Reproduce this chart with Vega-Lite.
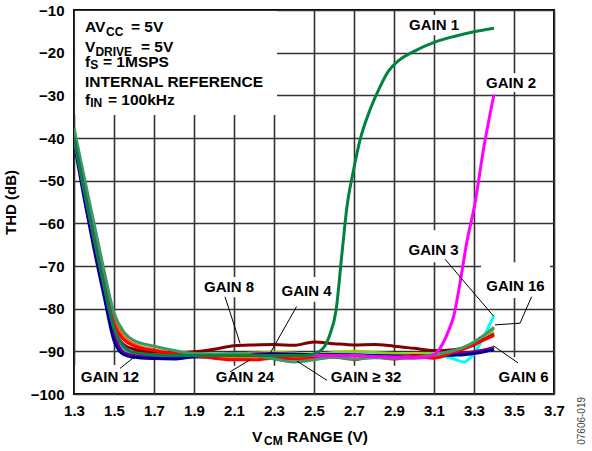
{
  "$schema": "https://vega.github.io/schema/vega-lite/v6.json",
  "width": 480,
  "height": 384,
  "autosize": {"type": "none"},
  "padding": {"left": 74, "top": 10, "right": 38, "bottom": 57},
  "background": "white",
  "config": {
    "view": {"stroke": "black", "strokeWidth": 2},
    "font": "Liberation Sans",
    "axis": {
      "domain": false,
      "ticks": false,
      "grid": true,
      "gridColor": "#333333",
      "gridWidth": 1.6,
      "gridOpacity": 1,
      "labelFont": "Liberation Sans",
      "labelFontSize": 15,
      "labelFontWeight": "bold",
      "labelColor": "black",
      "titleFont": "Liberation Sans",
      "titleFontSize": 15,
      "titleFontWeight": "bold",
      "titleColor": "black"
    }
  },
  "datasets": {
    "curves": [
      {"g":"GAIN 4","x":1.3,"y":-40},{"g":"GAIN 4","x":1.35,"y":-52},{"g":"GAIN 4","x":1.4,"y":-63.5},{"g":"GAIN 4","x":1.45,"y":-74.5},{"g":"GAIN 4","x":1.5,"y":-85},{"g":"GAIN 4","x":1.55,"y":-89.5},{"g":"GAIN 4","x":1.6,"y":-90.5},{"g":"GAIN 4","x":1.7,"y":-90.7},{"g":"GAIN 4","x":1.8,"y":-90.8},{"g":"GAIN 4","x":1.9,"y":-90.9},{"g":"GAIN 4","x":2.0,"y":-90.8},{"g":"GAIN 4","x":2.1,"y":-90.6},{"g":"GAIN 4","x":2.2,"y":-90.4},{"g":"GAIN 4","x":2.3,"y":-90.2},{"g":"GAIN 4","x":2.4,"y":-90.4},{"g":"GAIN 4","x":2.5,"y":-90.6},{"g":"GAIN 4","x":2.6,"y":-90.3},{"g":"GAIN 4","x":2.7,"y":-90.0},{"g":"GAIN 4","x":2.8,"y":-90.3},{"g":"GAIN 4","x":2.9,"y":-90.5},{"g":"GAIN 4","x":3.0,"y":-90.6},{"g":"GAIN 4","x":3.1,"y":-90.3},{"g":"GAIN 4","x":3.2,"y":-89.8},{"g":"GAIN 4","x":3.25,"y":-89.3},{"g":"GAIN 4","x":3.3,"y":-88.3},{"g":"GAIN 4","x":3.35,"y":-86.8},{"g":"GAIN 4","x":3.4,"y":-85.5},
      {"g":"GAIN 3","x":1.3,"y":-40.5},{"g":"GAIN 3","x":1.35,"y":-52.5},{"g":"GAIN 3","x":1.4,"y":-64},{"g":"GAIN 3","x":1.45,"y":-75},{"g":"GAIN 3","x":1.5,"y":-85.5},{"g":"GAIN 3","x":1.55,"y":-90},{"g":"GAIN 3","x":1.6,"y":-90.9},{"g":"GAIN 3","x":1.7,"y":-91.2},{"g":"GAIN 3","x":1.8,"y":-91.2},{"g":"GAIN 3","x":1.9,"y":-91.0},{"g":"GAIN 3","x":2.0,"y":-90.9},{"g":"GAIN 3","x":2.1,"y":-90.8},{"g":"GAIN 3","x":2.2,"y":-90.7},{"g":"GAIN 3","x":2.3,"y":-90.7},{"g":"GAIN 3","x":2.4,"y":-90.8},{"g":"GAIN 3","x":2.5,"y":-90.9},{"g":"GAIN 3","x":2.6,"y":-90.7},{"g":"GAIN 3","x":2.7,"y":-90.6},{"g":"GAIN 3","x":2.8,"y":-90.8},{"g":"GAIN 3","x":2.9,"y":-91.0},{"g":"GAIN 3","x":3.0,"y":-91.0},{"g":"GAIN 3","x":3.1,"y":-90.8},{"g":"GAIN 3","x":3.2,"y":-91.8},{"g":"GAIN 3","x":3.25,"y":-92.5},{"g":"GAIN 3","x":3.3,"y":-90.5},{"g":"GAIN 3","x":3.35,"y":-86.5},{"g":"GAIN 3","x":3.4,"y":-81.5},
      {"g":"GAIN 6","x":1.3,"y":-40.5},{"g":"GAIN 6","x":1.35,"y":-53},{"g":"GAIN 6","x":1.4,"y":-65},{"g":"GAIN 6","x":1.45,"y":-76},{"g":"GAIN 6","x":1.5,"y":-86},{"g":"GAIN 6","x":1.55,"y":-90.3},{"g":"GAIN 6","x":1.6,"y":-91.0},{"g":"GAIN 6","x":1.7,"y":-91.3},{"g":"GAIN 6","x":1.8,"y":-91.2},{"g":"GAIN 6","x":1.9,"y":-91.0},{"g":"GAIN 6","x":2.0,"y":-90.9},{"g":"GAIN 6","x":2.1,"y":-90.8},{"g":"GAIN 6","x":2.2,"y":-90.6},{"g":"GAIN 6","x":2.3,"y":-90.5},{"g":"GAIN 6","x":2.4,"y":-90.7},{"g":"GAIN 6","x":2.5,"y":-90.9},{"g":"GAIN 6","x":2.6,"y":-90.8},{"g":"GAIN 6","x":2.7,"y":-90.8},{"g":"GAIN 6","x":2.8,"y":-91.0},{"g":"GAIN 6","x":2.9,"y":-91.1},{"g":"GAIN 6","x":3.0,"y":-91.0},{"g":"GAIN 6","x":3.1,"y":-90.9},{"g":"GAIN 6","x":3.2,"y":-90.6},{"g":"GAIN 6","x":3.25,"y":-90.4},{"g":"GAIN 6","x":3.3,"y":-90.1},{"g":"GAIN 6","x":3.35,"y":-89.7},{"g":"GAIN 6","x":3.4,"y":-89.1},
      {"g":"GAIN 12","x":1.3,"y":-41},{"g":"GAIN 12","x":1.35,"y":-54},{"g":"GAIN 12","x":1.4,"y":-66},{"g":"GAIN 12","x":1.45,"y":-77},{"g":"GAIN 12","x":1.5,"y":-87.5},{"g":"GAIN 12","x":1.55,"y":-90.8},{"g":"GAIN 12","x":1.6,"y":-91.4},{"g":"GAIN 12","x":1.7,"y":-91.7},{"g":"GAIN 12","x":1.8,"y":-91.8},{"g":"GAIN 12","x":1.9,"y":-91.3},{"g":"GAIN 12","x":2.0,"y":-91.3},{"g":"GAIN 12","x":2.1,"y":-91.0},{"g":"GAIN 12","x":2.2,"y":-90.9},{"g":"GAIN 12","x":2.3,"y":-90.7},{"g":"GAIN 12","x":2.4,"y":-90.7},{"g":"GAIN 12","x":2.5,"y":-90.8},{"g":"GAIN 12","x":2.6,"y":-90.8},{"g":"GAIN 12","x":2.7,"y":-90.9},{"g":"GAIN 12","x":2.8,"y":-91.0},{"g":"GAIN 12","x":2.9,"y":-91.1},{"g":"GAIN 12","x":3.0,"y":-91.2},{"g":"GAIN 12","x":3.1,"y":-91.0},{"g":"GAIN 12","x":3.2,"y":-90.9},{"g":"GAIN 12","x":3.25,"y":-90.8},{"g":"GAIN 12","x":3.3,"y":-90.5},{"g":"GAIN 12","x":3.35,"y":-90.1},{"g":"GAIN 12","x":3.4,"y":-89.6},
      {"g":"GAIN 16","x":1.3,"y":-38.5},{"g":"GAIN 16","x":1.35,"y":-50},{"g":"GAIN 16","x":1.4,"y":-61},{"g":"GAIN 16","x":1.45,"y":-72},{"g":"GAIN 16","x":1.5,"y":-82},{"g":"GAIN 16","x":1.55,"y":-86.5},{"g":"GAIN 16","x":1.6,"y":-88.3},{"g":"GAIN 16","x":1.7,"y":-89.6},{"g":"GAIN 16","x":1.8,"y":-90.4},{"g":"GAIN 16","x":1.9,"y":-91.0},{"g":"GAIN 16","x":2.0,"y":-91.3},{"g":"GAIN 16","x":2.1,"y":-91.5},{"g":"GAIN 16","x":2.2,"y":-91.4},{"g":"GAIN 16","x":2.3,"y":-91.2},{"g":"GAIN 16","x":2.4,"y":-91.3},{"g":"GAIN 16","x":2.5,"y":-91.4},{"g":"GAIN 16","x":2.6,"y":-91.2},{"g":"GAIN 16","x":2.7,"y":-91.0},{"g":"GAIN 16","x":2.8,"y":-91.3},{"g":"GAIN 16","x":2.9,"y":-91.4},{"g":"GAIN 16","x":3.0,"y":-91.2},{"g":"GAIN 16","x":3.1,"y":-91.0},{"g":"GAIN 16","x":3.2,"y":-90.0},{"g":"GAIN 16","x":3.25,"y":-89.2},{"g":"GAIN 16","x":3.3,"y":-88.0},{"g":"GAIN 16","x":3.35,"y":-86.3},{"g":"GAIN 16","x":3.4,"y":-84.3},
      {"g":"GAIN 8","x":1.3,"y":-40},{"g":"GAIN 8","x":1.35,"y":-52},{"g":"GAIN 8","x":1.4,"y":-63.5},{"g":"GAIN 8","x":1.45,"y":-74.5},{"g":"GAIN 8","x":1.5,"y":-84.5},{"g":"GAIN 8","x":1.55,"y":-88.5},{"g":"GAIN 8","x":1.6,"y":-89.5},{"g":"GAIN 8","x":1.7,"y":-90.2},{"g":"GAIN 8","x":1.8,"y":-90.3},{"g":"GAIN 8","x":1.9,"y":-90.1},{"g":"GAIN 8","x":2.0,"y":-89.5},{"g":"GAIN 8","x":2.1,"y":-88.7},{"g":"GAIN 8","x":2.2,"y":-88.5},{"g":"GAIN 8","x":2.3,"y":-88.4},{"g":"GAIN 8","x":2.4,"y":-88.6},{"g":"GAIN 8","x":2.5,"y":-87.8},{"g":"GAIN 8","x":2.6,"y":-88.2},{"g":"GAIN 8","x":2.7,"y":-88.5},{"g":"GAIN 8","x":2.8,"y":-88.4},{"g":"GAIN 8","x":2.9,"y":-88.8},{"g":"GAIN 8","x":3.0,"y":-89.3},{"g":"GAIN 8","x":3.1,"y":-89.8},{"g":"GAIN 8","x":3.2,"y":-89.6},{"g":"GAIN 8","x":3.25,"y":-89.2},{"g":"GAIN 8","x":3.3,"y":-88.5},{"g":"GAIN 8","x":3.35,"y":-87.2},{"g":"GAIN 8","x":3.4,"y":-86.0},
      {"g":"GAIN 24","x":1.3,"y":-39.5},{"g":"GAIN 24","x":1.35,"y":-51},{"g":"GAIN 24","x":1.4,"y":-62.5},{"g":"GAIN 24","x":1.45,"y":-73.5},{"g":"GAIN 24","x":1.5,"y":-83.5},{"g":"GAIN 24","x":1.55,"y":-87.3},{"g":"GAIN 24","x":1.6,"y":-88.7},{"g":"GAIN 24","x":1.7,"y":-89.8},{"g":"GAIN 24","x":1.8,"y":-90.5},{"g":"GAIN 24","x":1.9,"y":-91.0},{"g":"GAIN 24","x":2.0,"y":-91.6},{"g":"GAIN 24","x":2.1,"y":-92.0},{"g":"GAIN 24","x":2.2,"y":-92.0},{"g":"GAIN 24","x":2.3,"y":-91.6},{"g":"GAIN 24","x":2.4,"y":-91.8},{"g":"GAIN 24","x":2.5,"y":-91.6},{"g":"GAIN 24","x":2.6,"y":-91.4},{"g":"GAIN 24","x":2.7,"y":-91.9},{"g":"GAIN 24","x":2.8,"y":-91.3},{"g":"GAIN 24","x":2.9,"y":-91.8},{"g":"GAIN 24","x":3.0,"y":-91.2},{"g":"GAIN 24","x":3.1,"y":-91.6},{"g":"GAIN 24","x":3.2,"y":-90.2},{"g":"GAIN 24","x":3.25,"y":-89.4},{"g":"GAIN 24","x":3.3,"y":-88.4},{"g":"GAIN 24","x":3.35,"y":-87.3},{"g":"GAIN 24","x":3.4,"y":-86.3},
      {"g":"GAIN 32","x":1.3,"y":-37.7},{"g":"GAIN 32","x":1.35,"y":-49},{"g":"GAIN 32","x":1.4,"y":-60},{"g":"GAIN 32","x":1.45,"y":-71},{"g":"GAIN 32","x":1.5,"y":-81},{"g":"GAIN 32","x":1.55,"y":-85.5},{"g":"GAIN 32","x":1.6,"y":-87.5},{"g":"GAIN 32","x":1.7,"y":-88.8},{"g":"GAIN 32","x":1.8,"y":-89.8},{"g":"GAIN 32","x":1.9,"y":-90.5},{"g":"GAIN 32","x":2.0,"y":-90.6},{"g":"GAIN 32","x":2.1,"y":-90.5},{"g":"GAIN 32","x":2.2,"y":-90.9},{"g":"GAIN 32","x":2.3,"y":-91.8},{"g":"GAIN 32","x":2.4,"y":-92.5},{"g":"GAIN 32","x":2.5,"y":-92.0},{"g":"GAIN 32","x":2.6,"y":-91.3},{"g":"GAIN 32","x":2.7,"y":-91.8},{"g":"GAIN 32","x":2.8,"y":-91.5},{"g":"GAIN 32","x":2.9,"y":-91.6},{"g":"GAIN 32","x":3.0,"y":-91.6},{"g":"GAIN 32","x":3.1,"y":-90.8},{"g":"GAIN 32","x":3.2,"y":-89.8},{"g":"GAIN 32","x":3.25,"y":-89.0},{"g":"GAIN 32","x":3.3,"y":-87.8},{"g":"GAIN 32","x":3.35,"y":-86.2},{"g":"GAIN 32","x":3.4,"y":-84.6},
      {"g":"GAIN 2","x":1.3,"y":-40},{"g":"GAIN 2","x":1.35,"y":-52},{"g":"GAIN 2","x":1.4,"y":-63.5},{"g":"GAIN 2","x":1.45,"y":-74.5},{"g":"GAIN 2","x":1.5,"y":-84.5},{"g":"GAIN 2","x":1.55,"y":-89},{"g":"GAIN 2","x":1.6,"y":-90.3},{"g":"GAIN 2","x":1.7,"y":-90.8},{"g":"GAIN 2","x":1.8,"y":-91},{"g":"GAIN 2","x":2.0,"y":-91},{"g":"GAIN 2","x":2.2,"y":-91},{"g":"GAIN 2","x":2.4,"y":-91},{"g":"GAIN 2","x":2.6,"y":-91},{"g":"GAIN 2","x":2.8,"y":-91.2},{"g":"GAIN 2","x":2.9,"y":-91.4},{"g":"GAIN 2","x":3.0,"y":-91.5},{"g":"GAIN 2","x":3.05,"y":-91.5},{"g":"GAIN 2","x":3.1,"y":-90.8},{"g":"GAIN 2","x":3.13,"y":-89.3},{"g":"GAIN 2","x":3.17,"y":-85.5},{"g":"GAIN 2","x":3.2,"y":-81.5},{"g":"GAIN 2","x":3.23,"y":-74},{"g":"GAIN 2","x":3.263,"y":-64.7},{"g":"GAIN 2","x":3.305,"y":-55.3},{"g":"GAIN 2","x":3.347,"y":-42.8},{"g":"GAIN 2","x":3.4,"y":-29.8},
      {"g":"GAIN 1","x":1.3,"y":-40},{"g":"GAIN 1","x":1.35,"y":-52},{"g":"GAIN 1","x":1.4,"y":-63.5},{"g":"GAIN 1","x":1.45,"y":-74.5},{"g":"GAIN 1","x":1.5,"y":-84.5},{"g":"GAIN 1","x":1.55,"y":-89},{"g":"GAIN 1","x":1.6,"y":-90.3},{"g":"GAIN 1","x":1.7,"y":-90.8},{"g":"GAIN 1","x":1.8,"y":-91},{"g":"GAIN 1","x":2.0,"y":-91},{"g":"GAIN 1","x":2.2,"y":-91},{"g":"GAIN 1","x":2.4,"y":-91},{"g":"GAIN 1","x":2.45,"y":-91},{"g":"GAIN 1","x":2.5,"y":-90.6},{"g":"GAIN 1","x":2.55,"y":-89.0},{"g":"GAIN 1","x":2.58,"y":-86},{"g":"GAIN 1","x":2.61,"y":-80.5},{"g":"GAIN 1","x":2.64,"y":-67},{"g":"GAIN 1","x":2.665,"y":-56},{"g":"GAIN 1","x":2.7,"y":-47},{"g":"GAIN 1","x":2.73,"y":-40.5},{"g":"GAIN 1","x":2.78,"y":-33.4},{"g":"GAIN 1","x":2.83,"y":-28},{"g":"GAIN 1","x":2.87,"y":-24.5},{"g":"GAIN 1","x":2.92,"y":-22},{"g":"GAIN 1","x":3.0,"y":-19.7},{"g":"GAIN 1","x":3.1,"y":-17.6},{"g":"GAIN 1","x":3.2,"y":-16.2},{"g":"GAIN 1","x":3.3,"y":-15.1},{"g":"GAIN 1","x":3.4,"y":-14.3}
    ],
    "boxes": [
      {"x":1.306,"x2":2.315,"y":-10.25,"y2":-34.6},
      {"x":2.95,"x2":3.25,"y":-11.2,"y2":-15.9},
      {"x":3.335,"x2":3.635,"y":-24.8,"y2":-29.2},
      {"x":2.95,"x2":3.245,"y":-61.6,"y2":-69.1},
      {"x":3.335,"x2":3.68,"y":-69.1,"y2":-77.5},
      {"x":3.395,"x2":3.69,"y":-91.3,"y2":-99.7},
      {"x":1.925,"x2":2.225,"y":-72.6,"y2":-77.3},
      {"x":2.31,"x2":2.615,"y":-72.6,"y2":-78.4},
      {"x":1.306,"x2":1.655,"y":-93.2,"y2":-99.7},
      {"x":1.985,"x2":2.325,"y":-93.4,"y2":-99.7},
      {"x":2.555,"x2":2.965,"y":-93.4,"y2":-99.7}
    ],
    "leaders": [
      {"id":"L8","o":1,"x":2.055,"y":-77.2},{"id":"L8","o":2,"x":2.13,"y":-88.1},
      {"id":"L4","o":1,"x":2.413,"y":-79.5},{"id":"L4","o":2,"x":2.28,"y":-90.5},
      {"id":"L12","o":1,"x":1.53,"y":-94.0},{"id":"L12","o":2,"x":1.605,"y":-91.2},
      {"id":"L24","o":1,"x":2.08,"y":-94.8},{"id":"L24","o":2,"x":2.18,"y":-92.0},
      {"id":"L32","o":1,"x":2.415,"y":-92.3},{"id":"L32","o":2,"x":2.565,"y":-96.8},
      {"id":"L3","o":1,"x":3.155,"y":-68.4},{"id":"L3","o":2,"x":3.397,"y":-81.7},
      {"id":"L16","o":1,"x":3.588,"y":-77.2},{"id":"L16","o":2,"x":3.53,"y":-83.4},{"id":"L16","o":3,"x":3.405,"y":-83.8},
      {"id":"L6","o":1,"x":3.397,"y":-88.7},{"id":"L6","o":2,"x":3.52,"y":-92.7}
    ],
    "labels": [
      {"t":"GAIN 1","x":3.1,"y":-13.5},
      {"t":"GAIN 2","x":3.485,"y":-27.0},
      {"t":"GAIN 3","x":3.0975,"y":-66.2},
      {"t":"GAIN 16","x":3.5075,"y":-74.8},
      {"t":"GAIN 6","x":3.5475,"y":-96.1},
      {"t":"GAIN 8","x":2.075,"y":-75.0},
      {"t":"GAIN 4","x":2.4625,"y":-75.9},
      {"t":"GAIN 12","x":1.48,"y":-96.1},
      {"t":"GAIN 24","x":2.155,"y":-96.1},
      {"t":"GAIN ≥ 32","x":2.76,"y":-96.1}
    ],
    "notes": [
      {"t":"AV","x":1.355,"y":-13.91},
      {"t":"= 5V","x":1.585,"y":-13.91},
      {"t":"V","x":1.355,"y":-18.6},
      {"t":"= 5V","x":1.635,"y":-18.6},
      {"t":"f","x":1.355,"y":-22.19},
      {"t":"= 1MSPS","x":1.445,"y":-22.19},
      {"t":"INTERNAL REFERENCE","x":1.355,"y":-26.87},
      {"t":"f","x":1.355,"y":-31.09},
      {"t":"= 100kHz","x":1.47,"y":-31.09},
      {"t":"V","x":2.19,"y":-110.07},
      {"t":"RANGE (V)","x":2.365,"y":-110.07}
    ],
    "subs": [
      {"t":"CC","x":1.46,"y":-15.04},
      {"t":"DRIVE","x":1.407,"y":-19.77},
      {"t":"S","x":1.381,"y":-22.89},
      {"t":"IN","x":1.381,"y":-31.91},
      {"t":"CM","x":2.25,"y":-111.0}
    ],
    "foot": [
      {"t":"07606-019","x":3.84,"y":-106.3}
    ]
  },
  "encoding": {
    "x": {
      "field": "x",
      "type": "quantitative",
      "scale": {"domain": [1.3, 3.7], "nice": false, "zero": false},
      "axis": {"values": [1.3,1.5,1.7,1.9,2.1,2.3,2.5,2.7,2.9,3.1,3.3,3.5,3.7], "format": ".1f", "labelPadding": 9, "title": null, "labelFlush": false, "labelOverlap": false}
    },
    "y": {
      "field": "y",
      "type": "quantitative",
      "scale": {"domain": [-100, -10], "nice": false, "zero": false},
      "axis": {"values": [-100,-90,-80,-70,-60,-50,-40,-30,-20,-10], "labelPadding": 10, "title": "THD (dB)", "titlePadding": 12, "labelFlush": false, "labelOverlap": false}
    }
  },
  "layer": [
    {
      "data": {"name": "boxes"},
      "mark": {"type": "rect", "fill": "white", "stroke": null},
      "encoding": {"x2": {"field": "x2"}, "y2": {"field": "y2"}}
    },
    {
      "data": {"name": "curves"},
      "mark": {"type": "line", "strokeWidth": 3, "interpolate": "monotone", "clip": true},
      "encoding": {
        "color": {
          "field": "g",
          "type": "nominal",
          "scale": {
            "domain": ["GAIN 4","GAIN 3","GAIN 6","GAIN 12","GAIN 16","GAIN 8","GAIN 24","GAIN 32","GAIN 2","GAIN 1"],
            "range": ["#99CC00","#00FFFF","#800080","#000099","#FF6600","#800000","#FF0000","#3A9A6A","#FF00FF","#00843D"]
          },
          "legend": null
        }
      }
    },
    {
      "data": {"name": "leaders"},
      "mark": {"type": "line", "color": "black", "strokeWidth": 1},
      "encoding": {"detail": {"field": "id"}, "order": {"field": "o"}}
    },
    {
      "data": {"name": "labels"},
      "mark": {"type": "text", "font": "Liberation Sans", "fontSize": 15, "fontWeight": "bold", "color": "black", "align": "center", "baseline": "middle"},
      "encoding": {"text": {"field": "t"}}
    },
    {
      "data": {"name": "notes"},
      "mark": {"type": "text", "font": "Liberation Sans", "fontSize": 15.5, "fontWeight": "bold", "color": "black", "align": "left", "baseline": "middle", "clip": false},
      "encoding": {"text": {"field": "t"}}
    },
    {
      "data": {"name": "subs"},
      "mark": {"type": "text", "font": "Liberation Sans", "fontSize": 12, "fontWeight": "bold", "color": "black", "align": "left", "baseline": "middle", "clip": false},
      "encoding": {"text": {"field": "t"}}
    },
    {
      "data": {"name": "foot"},
      "mark": {"type": "text", "font": "Liberation Sans", "fontSize": 10, "color": "#444444", "align": "center", "baseline": "middle", "angle": 270, "clip": false},
      "encoding": {"text": {"field": "t"}}
    }
  ]
}
